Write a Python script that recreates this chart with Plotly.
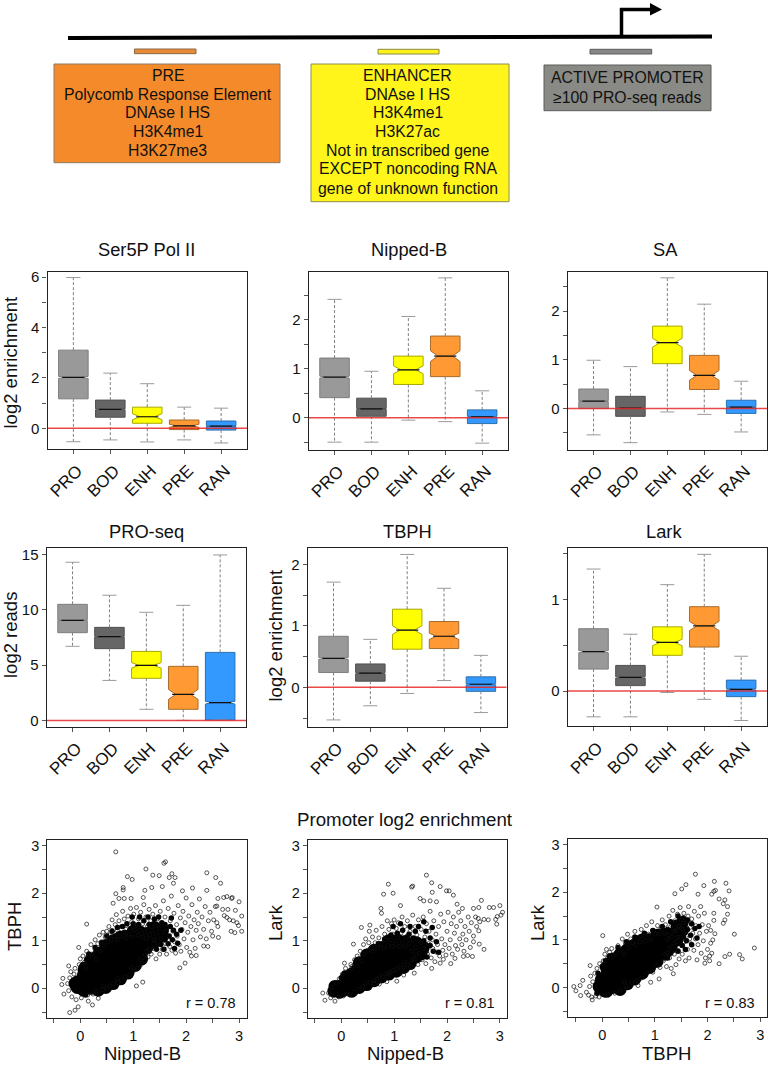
import plotly.graph_objects as go

W, H = 770, 1065
categories = ["PRO", "BOD", "ENH", "PRE", "RAN"]
fill_colors = ["#999999", "#666666", "#ffff00", "#ff9933", "#3399ff"]
edge_colors = ["#7d7d7d", "#505050", "#a8a800", "#a86c2c", "#2b6fae"]

# ---------- box summaries ----------
ser5_hi = [5.98, 2.19, 1.77, 0.84, 0.80]
ser5_q3 = [3.10, 1.12, 0.84, 0.33, 0.29]
ser5_med = [2.02, 0.75, 0.46, 0.10, 0.09]
ser5_q1 = [1.17, 0.44, 0.20, -0.05, -0.07]
ser5_lo = [-0.53, -0.46, -0.54, -0.46, -0.58]
ser5_notch = [0.04, 0.02, 0.12, 0.06, 0.02]

nipped_hi = [2.42, 0.95, 2.07, 2.86, 0.55]
nipped_q3 = [1.22, 0.40, 1.26, 1.67, 0.16]
nipped_med = [0.83, 0.18, 0.98, 1.26, 0.02]
nipped_q1 = [0.41, 0.03, 0.68, 0.84, -0.12]
nipped_lo = [-0.50, -0.50, -0.05, -0.08, -0.52]
nipped_notch = [0.02, 0.01, 0.08, 0.11, 0.01]

sa_hi = [0.99, 0.86, 2.68, 2.14, 0.56]
sa_q3 = [0.40, 0.25, 1.69, 1.09, 0.17]
sa_med = [0.15, 0.01, 1.35, 0.68, 0.03]
sa_q1 = [0.00, -0.16, 0.92, 0.39, -0.10]
sa_lo = [-0.54, -0.70, -0.07, -0.12, -0.48]
sa_notch = [0.01, 0.01, 0.09, 0.10, 0.01]

proseq_hi = [14.28, 11.30, 9.76, 10.39, 14.94]
proseq_q3 = [10.48, 8.40, 6.23, 4.88, 6.14]
proseq_med = [9.04, 7.56, 4.97, 2.35, 1.60]
proseq_q1 = [7.92, 6.48, 3.80, 1.00, 0.03]
proseq_lo = [6.69, 3.61, 1.00, 0.00, 0.03]
proseq_notch = [0.04, 0.04, 0.25, 0.45, 0.12]

tbph_hi = [1.71, 0.78, 2.16, 1.61, 0.52]
tbph_q3 = [0.83, 0.38, 1.27, 1.07, 0.17]
tbph_med = [0.47, 0.23, 0.93, 0.83, 0.05]
tbph_q1 = [0.24, 0.10, 0.62, 0.63, -0.065]
tbph_lo = [-0.53, -0.30, -0.10, 0.11, -0.41]
tbph_notch = [0.015, 0.01, 0.07, 0.05, 0.01]

lark_hi = [1.33, 0.62, 1.16, 1.49, 0.38]
lark_q3 = [0.68, 0.28, 0.70, 0.92, 0.12]
lark_med = [0.43, 0.15, 0.53, 0.71, 0.02]
lark_q1 = [0.24, 0.06, 0.39, 0.48, -0.06]
lark_lo = [-0.28, -0.28, -0.015, -0.09, -0.32]
lark_notch = [0.012, 0.008, 0.035, 0.05, 0.008]

# ---------- scatter clouds: hand read estimates ----------
# *_core stands for the solid black part of each cloud, *_mid for its mottled rim, *_open for the visible rings
nb_tbph_core = [(-.06,.02),(-.05,.14),(.06,-.04),(.07,.12),(.06,.28),(.2,.0),(.2,.16),(.2,.32),(.21,.48),
 (.34,.08),(.34,.24),(.34,.4),(.34,.56),(.48,.14),(.48,.3),(.48,.46),(.48,.62),(.48,.76),(.62,.24),(.62,.4),
 (.62,.56),(.62,.72),(.62,.86),(.76,.34),(.76,.5),(.76,.66),(.76,.82),(.76,.96),(.9,.46),(.9,.62),(.9,.78),
 (.9,.94),(1.04,.62),(1.04,.78),(1.04,.94),(1.16,.76),(1.16,.9),(1.28,.9),
 (-.1,.1),(.08,.42),(.2,.6),(.34,.7),(.48,.9),(.62,1.0),(.76,1.08),(.9,1.08),(1.04,1.08),(1.16,1.04),(1.3,1.02),
 (1.42,1.0),(.34,-.04),(.48,.02),(.62,.1),(.76,.2),(.9,.32),(1.04,.48),(1.16,.62),
 (1.0,1.2),(1.14,1.18),(1.28,1.16),(1.42,1.14),(1.55,1.1),(1.55,1.24),(1.4,1.28)]
nb_tbph_mid = [(.0,.38),(.05,.5),(.12,.6),(.16,.72),(.24,.7),(.28,.86),(.36,.82),(.4,.96),(.46,.92),(.5,1.1),(.56,1.02),
 (.6,1.2),(.66,1.1),(.7,1.28),(.74,1.14),(.8,1.3),(.84,1.18),(.88,1.36),(.94,1.2),(1.0,1.36),(1.04,1.22),(1.1,1.34),
 (1.14,1.18),(1.2,1.42),(1.24,1.2),(1.3,1.34),(1.36,1.14),(1.4,1.46),(1.46,1.22),(1.54,1.38),
 (1.3,.78),(1.38,.9),(1.46,1.04),(1.54,1.14),(1.62,1.2),(1.7,1.3),(1.44,.82),(1.52,.92),(1.6,1.02),(1.68,1.1),
 (1.76,1.22),(1.58,.82),(1.66,.94),(1.74,1.02),(1.82,1.14),(1.36,1.3),(1.48,1.5),(1.6,1.34),(1.72,1.48),(1.28,1.5),
 (1.12,1.5),(.98,1.5),(1.84,.95),(1.9,1.22),(1.78,.84),
 (.1,-.14),(.24,-.04),(.38,.0),(.52,.05),(.66,.14),(.8,.26),(.94,.38),(1.08,.5),(1.2,.62)]
nb_tbph_open = [(.67,2.87),(1.61,2.66),(1.58,2.63),(1.24,2.51),(.89,2.35),(.98,2.29),(1.37,2.38),(1.49,2.37),
 (1.73,2.41),(1.68,2.33),(1.79,2.33),(1.76,2.21),(2.39,2.43),(2.56,2.33),(2.65,2.21),(2.39,2.06),(2.12,2.11),
 (1.93,2.05),(1.55,2.14),(1.35,2.12),(1.22,2.06),(.81,2.12),(.81,2.07),(.67,1.99),(.73,1.89),(.83,1.89),
 (.96,1.89),(1.19,1.91),(.62,1.79),(.12,1.35),(-.03,.86),(2.6,1.89),(2.71,1.91),(2.77,1.93),(2.86,1.89),
 (2.87,1.91),(3.0,1.82),(3.05,1.52),(2.93,1.64),(2.79,1.66),(2.69,1.66),(2.58,1.73),(2.72,1.53),(2.77,1.49),
 (2.82,1.44),(2.89,1.42),(2.96,1.38),(2.99,1.32),(3.05,1.2),(2.92,1.17),(2.85,1.2),(2.6,1.3),(2.61,1.07),
 (2.41,.88),(2.33,.89),(2.19,.69),(2.1,.68),(1.98,.53),(1.88,.43),(-.2,-.51),(-.1,-.46),(-.04,-.39),(.23,-.35),
 (.15,-.27),(.34,-.21),(-.33,.21),(-.35,.08),(-.31,-.12),(-.22,.47),(1.18,.13),(1.06,.05),
 (-.24,.1),(-.22,-.05),(-.2,.22),(-.18,.35),(-.16,-.18),(-.12,.3),(-.1,.42),(-.08,-.24),(-.02,.5),(.0,.62),
 (.02,-.2),(.05,.68),(.08,.55),(.12,.78),(.14,-.14),(.16,.68),(.2,.92),(.22,.72),(.24,-.12),(.28,1.02),(.28,.82),
 (.3,-.06),(.33,.94),(.36,1.12),(.38,.78),(.4,.98),(.42,-.03),(.43,1.18),(.45,.9),(.47,1.08),(.5,1.2),(.5,.0),
 (.52,.98),(.54,1.3),(.55,1.12),(.56,.05),(.58,1.02),(.6,1.44),(.6,1.22),(.63,.1),(.64,1.1),(.66,1.34),(.68,1.55),
 (.7,1.02),(.7,1.22),(.71,.12),(.73,1.42),(.75,1.1),(.77,1.3),(.78,.18),(.8,1.62),(.82,1.18),(.83,1.46),(.85,.24),
 (.86,1.06),(.87,1.32),(.9,1.52),(.92,1.14),(.93,.28),(.94,1.26),(.95,1.68),(.97,1.4),(.99,1.08),(1.0,.36),
 (1.01,1.56),(1.02,1.22),(1.05,1.32),(1.06,1.7),(1.08,.42),(1.09,1.12),(1.1,1.46),(1.12,1.22),(1.14,1.6),(1.15,.5),
 (1.17,1.08),(1.18,1.36),(1.2,1.76),(1.21,.58),(1.22,1.18),(1.24,1.5),(1.25,1.04),(1.27,1.3),(1.28,.66),(1.3,1.66),
 (1.31,1.12),(1.33,1.42),(1.34,.72),(1.35,1.22),(1.37,1.56),(1.38,.84),(1.39,1.02),(1.4,1.32),(1.42,1.74),(1.43,.62),
 (1.44,1.14),(1.46,1.46),(1.47,.92),(1.49,1.26),(1.5,.72),(1.51,1.62),(1.52,1.04),(1.54,1.36),(1.55,.82),(1.57,1.84),
 (1.58,1.18),(1.6,1.5),(1.61,.94),(1.63,.72),(1.64,1.28),(1.66,1.68),(1.67,1.08),(1.69,.88),(1.7,1.42),(1.72,1.94),
 (1.73,.8),(1.75,1.2),(1.77,1.58),(1.78,.98),(1.8,.74),(1.82,1.34),(1.83,1.1),(1.85,1.74),(1.87,.92),(1.89,1.48),
 (1.9,.78),(1.92,1.24),(1.94,1.62),(1.96,1.04),(1.98,1.38),(2.0,1.9),(2.01,.86),(2.03,1.18),(2.05,1.52),(2.07,.76),
 (2.09,1.3),(2.11,1.76),(2.13,1.02),(2.15,1.44),(2.17,.84),(2.19,1.22),(2.21,1.6),(2.23,1.36),(2.25,1.88),(2.27,1.08),
 (2.3,1.5),(2.33,1.24),(2.36,1.72),(2.38,1.04),(2.42,1.42),(2.45,1.6),(2.48,1.2),(2.5,1.1),(2.52,1.44),(2.55,1.72),
 (2.58,1.38),(.1,.42),(.3,.62),(.44,.04),(.7,.2),(.96,.44),(1.12,.6),(1.26,.78),(1.4,1.0),(1.3,.82),(1.22,.7)]

nb_lark_core = [(-.14,-.06),(-.03,-.08),(-.02,.05),(.1,.0),(.1,.12),(.1,.24),(.2,.06),(.2,.18),(.2,.3),(.34,.14),
 (.34,.28),(.34,.42),(.48,.2),(.48,.34),(.48,.48),(.48,.6),(.62,.28),(.62,.42),(.62,.56),(.62,.68),(.76,.34),
 (.76,.48),(.76,.62),(.76,.74),(.9,.42),(.9,.56),(.9,.7),(.9,.8),(1.04,.48),(1.04,.62),(1.04,.76),(1.18,.58),
 (1.18,.72),(1.3,.66),
 (-.12,.04),(.2,-.06),(.34,.02),(.34,.54),(.48,.08),(.48,.7),(.62,.16),(.62,.8),(.76,.24),(.76,.86),(.9,.3),(.9,.92),
 (1.04,.36),(1.04,.9),(1.18,.44),(1.18,.86),(1.3,.52),(1.3,.8),(1.42,.66),(1.5,.72),
 (.9,1.0),(1.04,1.0),(1.18,.98),(1.3,.94),(1.42,.82),(1.42,.96),(1.55,.86)]
nb_lark_mid = [(-.1,.1),(.0,.22),(.06,.32),(.16,.36),(.24,.44),(.3,.54),(.4,.58),(.44,.72),(.54,.72),(.58,.84),(.66,.8),
 (.7,.94),(.78,.88),(.82,1.04),(.88,.96),(.94,1.12),(.98,.98),(1.06,1.16),(1.1,.98),(1.16,1.22),(1.22,.98),(1.28,1.14),
 (1.34,.94),(1.4,1.2),(1.46,.96),(1.1,1.08),(1.24,1.08),(1.36,1.06),
 (1.36,.6),(1.44,.76),(1.52,.82),(1.6,.78),(1.68,.9),(1.44,.86),(1.56,1.0),(1.68,1.06),(1.5,.66),(1.62,.66),
 (1.74,.78),(1.8,.98),(1.3,1.3),(1.46,1.3),(1.6,1.2),(1.72,1.28),(1.12,1.36),(.98,1.3),(1.56,1.4),(1.84,.76),
 (.06,-.12),(.2,-.12),(.34,-.02),(.48,.06),(.62,.12),(.76,.2),(.9,.28),(1.04,.32),(1.18,.42),(1.3,.5)]
nb_lark_open = [(1.61,2.38),(1.71,2.22),(1.87,2.14),(.89,2.19),(.98,2.0),(.8,1.98),(1.35,2.15),(1.33,2.13),(1.99,2.05),
 (2.04,2.05),(2.12,1.96),(1.72,2.02),(1.49,1.89),(1.56,1.84),(1.68,1.84),(1.8,1.82),(2.19,1.77),(2.29,1.68),(2.65,1.85),
 (2.5,1.68),(2.6,1.7),(2.8,1.7),(2.88,1.7),(3.0,1.74),(3.05,1.6),(3.02,1.54),(2.95,1.51),(2.92,1.45),(2.94,1.35),
 (2.78,1.44),(2.7,1.45),(2.59,1.47),(2.6,1.21),(2.5,.98),(2.61,.93),(2.7,.82),(2.48,.67),(2.39,.69),(2.31,.67),(2.15,.63),
 (2.07,.52),(1.93,.61),(1.87,.53),(1.71,.42),(1.38,.32),(1.18,.28),(1.05,.15),(.86,.14),(.72,.09),(-.31,-.25),(-.35,-.1),
 (-.12,-.27),(.16,-.14),(.23,.93),(.06,.53),(.75,1.68),(.76,1.58),(.38,1.28),(.54,1.33),(1.12,1.74),
 (-.24,-.1),(-.2,-.2),(-.18,.02),(-.1,.12),(-.05,-.18),(-.04,.2),(.02,.3),(.04,-.16),(.08,.42),(.12,-.12),(.14,.36),
 (.18,.5),(.2,.46),(.24,-.08),(.25,.6),(.3,.48),(.3,.68),(.34,-.02),(.36,.78),(.38,.58),(.41,.04),(.42,.92),(.44,.72),
 (.46,1.04),(.46,.1),(.5,.8),(.52,.96),(.53,1.2),(.55,.12),(.57,.86),(.59,1.08),(.6,.78),(.62,.16),(.64,.96),(.66,1.22),
 (.67,.2),(.69,.86),(.71,1.06),(.73,.26),(.75,.94),(.77,1.3),(.78,.24),(.8,.84),(.82,1.14),(.84,1.02),(.85,.3),(.87,1.42),
 (.88,.9),(.9,1.24),(.92,.34),(.93,1.02),(.95,1.36),(.96,.88),(.98,1.14),(.99,.38),(1.0,1.44),(1.02,.94),(1.04,1.26),
 (1.05,.4),(1.07,1.06),(1.08,1.38),(1.1,.88),(1.11,.46),(1.13,1.16),(1.15,1.5),(1.16,.96),(1.18,.44),(1.2,1.3),(1.21,.86),
 (1.23,1.08),(1.25,1.42),(1.26,.5),(1.28,.94),(1.3,1.2),(1.31,.44),(1.33,.78),(1.35,1.54),(1.36,1.02),(1.38,.6),(1.4,1.3),
 (1.41,.86),(1.43,1.12),(1.45,.5),(1.46,1.44),(1.48,.74),(1.5,.96),(1.51,1.24),(1.53,.6),(1.55,1.5),(1.56,.84),(1.58,1.08),
 (1.6,.52),(1.61,1.36),(1.63,.72),(1.65,.94),(1.66,1.2),(1.68,1.62),(1.7,.64),(1.72,1.02),(1.73,.84),(1.75,1.42),(1.77,.56),
 (1.79,1.14),(1.8,.76),(1.82,.92),(1.84,1.3),(1.86,.68),(1.88,1.56),(1.9,1.04),(1.92,.8),(1.94,1.4),(1.96,.92),(1.98,.7),
 (2.0,1.2),(2.02,1.6),(2.04,.84),(2.06,1.02),(2.08,1.36),(2.1,.72),(2.12,1.5),(2.14,1.16),(2.16,.9),(2.18,1.3),(2.2,.82),
 (2.22,1.6),(2.24,1.04),(2.26,1.42),(2.28,.92),(2.3,1.14),(2.32,.78),(2.34,1.3),(2.36,1.02),(2.4,1.5),(2.42,1.2),(2.44,.86),
 (2.46,1.38),(2.5,1.1),(2.54,1.5),(2.56,1.3),(2.62,1.4),(.2,.42),(.62,.1),(.9,.3),(1.2,.56),(1.34,.6),(1.42,.7)]

tbph_lark_core = [(-.06,.02),(-.02,.16),(.04,-.06),(.08,.1),(.08,.26),(.08,.42),(.2,.0),(.2,.16),(.2,.32),(.2,.48),(.34,.08),
 (.34,.24),(.34,.4),(.34,.56),(.48,.2),(.48,.36),(.48,.52),(.48,.68),(.62,.3),(.62,.46),(.62,.62),(.62,.78),(.76,.42),(.76,.58),
 (.76,.74),(.76,.88),(.9,.54),(.9,.7),(.9,.86),(1.04,.68),(1.04,.84),(1.04,.98),(1.18,.82),(1.18,.98),(1.3,.98),(1.42,1.14),
 (.08,-.08),(.2,.6),(.34,.7),(.34,-.04),(.48,.8),(.48,.08),(.62,.9),(.62,.18),(.76,1.0),(.76,.3),(.9,1.0),(.9,.42),(1.04,1.1),
 (1.04,.55),(1.18,.7),(1.18,1.12),(1.3,.84),(1.3,1.12),(1.42,1.0),(1.42,1.28),(1.52,1.2),(1.52,1.36)]
tbph_lark_mid = [(-.08,.3),(.0,.44),(.06,.56),(.14,.66),(.24,.68),(.3,.84),(.4,.82),(.46,.96),(.56,.94),(.62,1.06),(.72,1.02),
 (.8,1.14),(.88,1.08),(.96,1.2),(1.08,1.18),(1.14,1.28),(1.24,1.22),(1.3,1.38),(1.38,1.36),(1.44,1.5),(1.54,1.46),(1.62,1.42),
 (1.3,.72),(1.38,.86),(1.46,.96),(1.54,1.06),(1.62,1.22),(1.7,1.34),(1.44,.76),(1.52,.88),(1.6,.98),(1.68,1.1),(1.76,1.24),
 (1.58,.8),(1.7,.9),(1.8,1.04),(1.84,1.28),
 (-.1,-.12),(.02,-.14),(.14,-.12),(.28,-.06),(.4,.02),(.54,.1),(.68,.2),(.82,.32),(.96,.44),(1.1,.56),(1.24,.62)]
tbph_lark_open = [(1.77,2.38),(2.13,2.23),(2.35,2.19),(2.41,2.03),(2.12,2.02),(2.15,2.04),(2.08,1.96),(2.22,1.86),(2.33,1.84),
 (2.3,1.76),(2.38,1.7),(2.38,1.54),(2.12,1.56),(2.12,1.41),(2.33,1.42),(2.3,1.35),(2.51,1.12),(2.14,1.13),(2.06,.93),(2.89,.83),
 (2.61,.69),(2.66,.6),(2.42,.7),(2.33,.65),(2.22,.5),(2.04,.56),(1.95,.51),(1.59,2.16),(1.51,2.07),(1.38,1.97),(1.93,2.14),
 (1.82,1.96),(1.04,1.69),(.01,1.09),(-.23,.46),(-.54,.02),(-.5,-.07),(-.42,.04),(-.37,.15),(-.41,-.17),(-.19,-.26),(1.35,.29),
 (1.08,.18),(.92,.11),(.68,.04),
 (-.3,-.1),(-.26,-.16),(-.24,.02),(-.22,.24),(-.2,-.2),(-.18,.12),(-.14,.3),(-.12,-.18),(-.1,.4),(-.06,-.2),(-.05,.5),(.02,.56),
 (.04,-.16),(.05,.7),(.08,.8),(.1,.62),(.12,-.15),(.14,.74),(.18,.82),(.2,.64),(.24,-.12),(.26,.72),(.3,.88),(.34,-.06),(.35,.78),
 (.38,1.02),(.42,.7),(.44,.94),(.46,.02),(.48,1.12),(.5,.84),(.54,1.02),(.56,.1),(.58,.94),(.62,1.18),(.64,.9),(.66,.14),(.68,1.05),
 (.72,.96),(.74,1.22),(.75,.2),(.78,1.08),(.82,.98),(.84,1.3),(.85,.3),(.88,1.12),(.92,1.0),(.94,1.38),(.96,.32),(.98,1.2),(1.0,1.12),
 (1.02,.46),(1.05,1.3),(1.08,1.12),(1.1,.42),(1.12,1.24),(1.14,1.42),(1.16,.56),(1.18,1.14),(1.2,1.32),(1.22,.44),(1.24,.72),(1.26,1.1),
 (1.27,1.5),(1.28,.62),(1.3,1.28),(1.31,.4),(1.33,.86),(1.34,1.62),(1.36,1.18),(1.37,.7),(1.38,1.4),(1.4,.48),(1.41,.96),(1.43,1.54),
 (1.44,.78),(1.45,1.28),(1.46,.6),(1.48,1.68),(1.49,1.06),(1.5,1.42),(1.51,.88),(1.52,.7),(1.54,1.22),(1.55,1.56),(1.56,.96),(1.58,.56),
 (1.59,1.36),(1.6,1.1),(1.62,.8),(1.63,1.5),(1.64,1.7),(1.65,.62),(1.66,1.02),(1.67,1.26),(1.69,.92),(1.7,1.44),(1.72,1.14),(1.74,.78),
 (1.75,1.6),(1.77,1.02),(1.78,1.3),(1.8,.58),(1.82,.9),(1.83,1.5),(1.85,1.14),(1.87,1.7),(1.88,.72),(1.9,1.32),(1.92,.98),(1.94,1.56),
 (1.96,.62),(1.98,1.18),(2.0,.8),(2.02,1.3),(2.04,.66),(2.06,1.2),(2.08,.72),(2.1,1.0),(.42,.12),(1.24,1.0),(1.32,1.06),(1.4,1.2),(1.46,1.3),
 (1.5,1.24),(1.54,1.36),(1.44,1.06),(1.36,.92),(1.28,.82),(1.2,.7)]

# ---------- layout helpers (pixel frame of the page) ----------
def xp(px):
    return px / W

def yp(py):
    return 1 - py / H

box_frames = [
    (47.5, 247, 271.5, 449), (308.7, 508, 271.5, 449.5), (567.7, 767, 271.5, 449.5),
    (46.7, 246, 548.3, 726.7), (307.7, 506.7, 548.3, 726.7), (567.7, 767, 548.3, 726),
]
scatter_frames = [(47.3, 247, 839.7, 1018), (308, 507.3, 839.7, 1018), (567.7, 767, 839, 1017)]

box_panels = [
    ("Ser5P Pol II", ser5_hi, ser5_q3, ser5_med, ser5_q1, ser5_lo, ser5_notch, [-0.82, 6.22], [0, 1, 2, 3, 4, 5, 6], ["0", "", "2", "", "4", "", "6"], 146),
    ("Nipped-B", nipped_hi, nipped_q3, nipped_med, nipped_q1, nipped_lo, nipped_notch, [-0.65, 2.99], [-0.5, 0, 0.5, 1, 1.5, 2, 2.5], ["", "0", "", "1", "", "2", ""], 409),
    ("SA", sa_hi, sa_q3, sa_med, sa_q1, sa_lo, sa_notch, [-0.84, 2.81], [-0.5, 0, 0.5, 1, 1.5, 2, 2.5], ["", "0", "", "1", "", "2", ""], 665),
    ("PRO-seq", proseq_hi, proseq_q3, proseq_med, proseq_q1, proseq_lo, proseq_notch, [-0.57, 15.54], [0, 5, 10, 15], ["0", "5", "10", "15"], 146),
    ("TBPH", tbph_hi, tbph_q3, tbph_med, tbph_q1, tbph_lo, tbph_notch, [-0.64, 2.26], [-0.5, 0, 0.5, 1, 1.5, 2], ["", "0", "", "1", "", "2"], 407),
    ("Lark", lark_hi, lark_q3, lark_med, lark_q1, lark_lo, lark_notch, [-0.38, 1.556], [0, 0.5, 1, 1.5], ["0", "", "1", ""], 664),
]
title_rows = [249, 249, 249, 531, 531, 531]

FONT = "Liberation Sans, Arial, sans-serif"
fig = go.Figure()
layout = dict(width=W, height=H, margin=dict(l=0, r=0, t=0, b=0), paper_bgcolor="white", plot_bgcolor="white",
              showlegend=False, font=dict(family=FONT, color="#111111"))
shapes, notes = [], []

def note(text, px, py, size, angle=0, color="#111111"):
    notes.append(dict(text=text, x=xp(px), y=yp(py), xref="paper", yref="paper", showarrow=False, font=dict(size=size, family=FONT, color=color),
                      xanchor="center", yanchor="middle", textangle=angle))

def axis_common():
    return dict(showgrid=False, zeroline=False, showline=True, mirror=True, linecolor="#222222", linewidth=1.3, automargin=False,
                ticks="outside", ticklen=4, tickcolor="#555555", tickwidth=1)

for n, (panel, frame) in enumerate(zip(box_panels, box_frames), start=1):
    title, hi, q3, med, q1, lo, notch, yrange, tv, tt, tx = panel
    ax = "" if n == 1 else str(n)
    layout["xaxis" + ax] = dict(axis_common(), domain=[xp(frame[0]), xp(frame[1])], range=[0.3, 5.7], anchor="y" + ax,
                                tickmode="array", tickvals=[1, 2, 3, 4, 5], ticktext=categories, tickangle=-45, ticklabelshift=4,
                                tickfont=dict(size=17, family=FONT, color="#111111"))
    layout["yaxis" + ax] = dict(axis_common(), domain=[yp(frame[3]), yp(frame[2])], range=yrange, anchor="x" + ax,
                                tickmode="array", tickvals=tv, ticktext=tt, tickfont=dict(size=15, family=FONT, color="#111111"))
    wx, wy, cx, cy, mx, my = [], [], [], [], [], []
    for i in range(5):
        p = i + 1
        fig.add_trace(go.Box(x=[p], q1=[q1[i]], median=[med[i]], q3=[q3[i]], lowerfence=[q1[i]], upperfence=[q3[i]],
                             notchspan=[notch[i]], notched=True, notchwidth=0.25, width=0.8, whiskerwidth=0, boxpoints=False,
                             fillcolor=fill_colors[i], line=dict(color=edge_colors[i], width=1), name=categories[i],
                             hoverinfo="skip", xaxis="x" + ax, yaxis="y" + ax))
        wx += [p, p, None, p, p, None]
        wy += [q3[i], hi[i], None, q1[i], lo[i], None]
        cx += [p - 0.19, p + 0.19, None, p - 0.19, p + 0.19, None]
        cy += [hi[i], hi[i], None, lo[i], lo[i], None]
        mx += [p - 0.3, p + 0.3, None]
        my += [med[i], med[i], None]
    fig.add_trace(go.Scatter(x=wx, y=wy, mode="lines", line=dict(color="#808080", width=1, dash="3px,2px"), hoverinfo="skip", xaxis="x" + ax, yaxis="y" + ax))
    fig.add_trace(go.Scatter(x=cx, y=cy, mode="lines", line=dict(color="#9a9a9a", width=1), hoverinfo="skip", xaxis="x" + ax, yaxis="y" + ax))
    fig.add_trace(go.Scatter(x=mx, y=my, mode="lines", line=dict(color="#111111", width=1.2), hoverinfo="skip", xaxis="x" + ax, yaxis="y" + ax))
    fig.add_trace(go.Scatter(x=[0.3, 5.7], y=[0, 0], mode="lines", line=dict(color="rgba(232,40,40,0.85)", width=1.5), hoverinfo="skip", xaxis="x" + ax, yaxis="y" + ax))
    note(title, tx, title_rows[n - 1], 18.3)

note("log2 enrichment", 9.5, 363, 18.5, -90)
note("log2 reads", 11, 635, 18.5, -90)
note("log2 enrichment", 275, 635.5, 18.5, -90)

scatter_panels = [
    (nb_tbph_core, nb_tbph_mid, nb_tbph_open, [-0.624, 3.15], [-0.624, 3.126], "Nipped-B", "TBPH", "r = 0.78", 142, 14, 927, 211),
    (nb_lark_core, nb_lark_mid, nb_lark_open, [-0.63, 3.14], [-0.624, 3.126], "Nipped-B", "Lark", "r = 0.81", 406, 275, 923, 470),
    (tbph_lark_core, tbph_lark_mid, tbph_lark_open, [-0.656, 3.13], [-0.62, 3.12], "TBPH", "Lark", "r = 0.83", 666, 537, 923, 730),
]
tick5 = [-0.5, 0, 0.5, 1, 1.5, 2, 2.5, 3]
tick5_text = ["", "0", "", "1", "", "2", "", "3"]
for k, (panel, frame) in enumerate(zip(scatter_panels, scatter_frames)):
    core, mid, rings, xr, yr, xt, yt, rt, xtx, ytx, yty, rx = panel
    ax = str(7 + k)
    for name, rng, dom, anch in (("xaxis", xr, [xp(frame[0]), xp(frame[1])], "y"), ("yaxis", yr, [yp(frame[3]), yp(frame[2])], "x")):
        layout[name + ax] = dict(axis_common(), domain=dom, range=rng, anchor=anch + ax, tickmode="array", tickvals=tick5, ticktext=tick5_text,
                                 tickfont=dict(size=14.5, family=FONT, color="#111111"))
    fig.add_trace(go.Scatter(x=[c[0] for c in core], y=[c[1] for c in core], mode="markers", hoverinfo="skip",
                             marker=dict(size=13, color="#000000", line=dict(width=0)), xaxis="x" + ax, yaxis="y" + ax))
    fig.add_trace(go.Scatter(x=[c[0] for c in mid], y=[c[1] for c in mid], mode="markers", hoverinfo="skip",
                             marker=dict(size=5.5, color="#000000", line=dict(width=0)), xaxis="x" + ax, yaxis="y" + ax))
    fig.add_trace(go.Scatter(x=[c[0] for c in rings], y=[c[1] for c in rings], mode="markers", hoverinfo="skip",
                             marker=dict(size=4, symbol="circle-open", color="#111111", line=dict(width=0.7)), xaxis="x" + ax, yaxis="y" + ax))
    note(xt, xtx, 1053.5, 18.5)
    note(yt, ytx, yty, 18.5, -90)
    note(rt, rx, 1003, 14.5)
note("Promoter log2 enrichment", 405, 819, 18.7)

# ---------- gene diagram ----------
def rect(x0, x1, y0, y1, fill, edge, width=1):
    shapes.append(dict(type="rect", xref="paper", yref="paper", x0=xp(x0), x1=xp(x1), y0=yp(y0), y1=yp(y1), fillcolor=fill, line=dict(color=edge, width=width)))

def seg(x0, y0, x1, y1, width):
    shapes.append(dict(type="line", xref="paper", yref="paper", x0=xp(x0), x1=xp(x1), y0=yp(y0), y1=yp(y1), line=dict(color="#000000", width=width)))

seg(68, 38, 712, 36.5, 4)
seg(621.5, 37, 621.5, 8, 3.5)
seg(620, 9.5, 651, 9.5, 3.5)
shapes.append(dict(type="path", xref="paper", yref="paper", fillcolor="#000000", line=dict(width=0),
                   path=f"M {xp(650)},{yp(3)} L {xp(662)},{yp(9.5)} L {xp(650)},{yp(15.5)} Z"))
rect(134.5, 196, 49, 53.7, "#e8893a", "#8a6a45")
rect(378, 439, 49.3, 54, "#fff21a", "#8a8a40")
rect(590, 651.7, 49.3, 54, "#868686", "#5c5c5c")
rect(54, 280, 64, 162.7, "#f58a2a", "#8c7a60")
rect(311, 509, 64, 201.7, "#fff51a", "#8c8c50")
rect(544, 711, 65, 110.7, "#898a85", "#5c5c5c")

pre_lines = ["PRE", "Polycomb Response Element", "DNAse I HS", "H3K4me1", "H3K27me3"]
pre_rows = [75, 94, 112.7, 131.7, 150.3]
enh_lines = ["ENHANCER", "DNAse I HS", "H3K4me1", "H3K27ac", "Not in transcribed gene", "EXCEPT noncoding RNA", "gene of unknown function"]
enh_rows = [75, 94, 112.7, 131.7, 150.3, 169, 188]
pro_lines = ["ACTIVE PROMOTER", "≥100 PRO-seq reads"]
pro_rows = [77.7, 97]
for t, r in zip(pre_lines, pre_rows):
    note(t, 167.5, r, 15.8)
for t, r in zip(enh_lines, enh_rows):
    note(t, 408, r, 15.8)
for t, r in zip(pro_lines, pro_rows):
    note(t, 627, r, 15.8)

layout["shapes"] = shapes
layout["annotations"] = notes
fig.update_layout(**layout)
fig.write_html("out.html", config={"displayModeBar": False},
               post_script="document.body.style.margin='0';document.body.style.overflow='hidden';")
